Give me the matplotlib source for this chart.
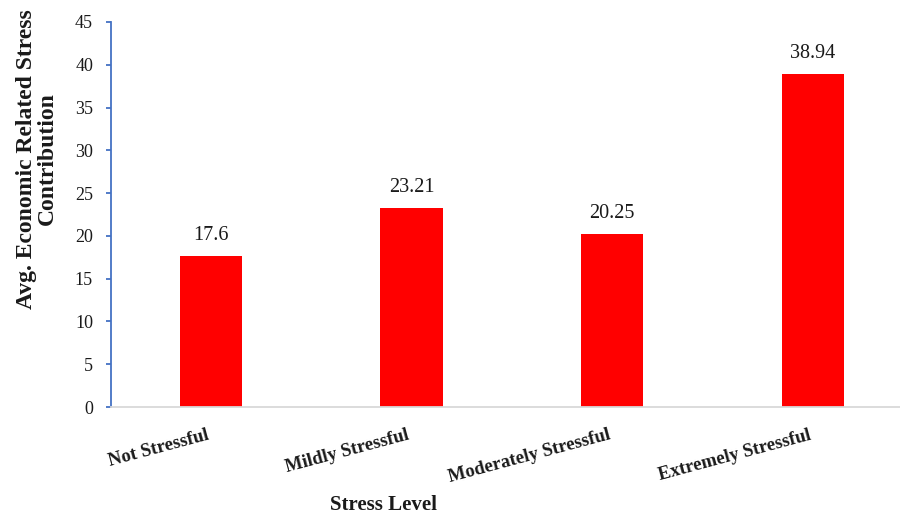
import matplotlib
matplotlib.use("Agg")
import matplotlib.pyplot as plt
import numpy as np

# data
levels = ["Not Stressful", "Mildly Stressful", "Moderately Stressful", "Extremely Stressful"]
avg_contrib = [17.6, 23.21, 20.25, 38.94]
value_labels = ["17.6", "23.21", "20.25", "38.94"]
yticks = [0, 5, 10, 15, 20, 25, 30, 35, 40, 45]

plt.rcParams['font.family'] = ['Liberation Serif', 'DejaVu Serif']

fig = plt.figure(figsize=(9, 5.14), dpi=100)
ax = fig.add_axes([110.5 / 900, 107 / 514, 802.5 / 900, 385 / 514])

x = np.arange(len(levels))
bars = ax.bar(x, avg_contrib, width=0.31, color='#FF0000', zorder=2)

# value labels above bars
for xi, v, lab in zip(x, avg_contrib, value_labels):
    ax.annotate(lab, (xi, v), xytext=(0, 8), textcoords='offset points',
                ha='center', va='bottom', fontsize=14.5, color='#1a1a1a')

ax.set_xlim(-0.5, 3.5)
ax.set_ylim(0, 45)
ax.set_yticks(yticks)
ax.set_yticklabels([str(t) for t in yticks], fontsize=13, color='#1a1a1a')

ax.set_xticks(x)
ax.set_xticklabels(levels, rotation=15, ha='right', fontsize=13.5,
                   fontweight='bold', color='#1a1a1a')
ax.tick_params(axis='x', length=0, pad=14)
ax.tick_params(axis='y', length=3.6, width=1.3, color='#4472C4', pad=9)

for s in ['top', 'right']:
    ax.spines[s].set_visible(False)
ax.spines['left'].set_color('#4472C4')
ax.spines['left'].set_linewidth(1.3)
ax.spines['bottom'].set_color('#D9D9D9')
ax.spines['bottom'].set_linewidth(1.3)

fig.text(384 / 900, (514 - 505) / 514, "Stress Level", ha='center', va='center',
         fontsize=15, fontweight='bold', color='#1a1a1a')
fig.text(37 / 900, (514 - 159) / 514, "Avg. Economic Related Stress\nContribution",
         rotation=90, ha='center', va='center', multialignment='center',
         fontsize=17, fontweight='bold', color='#1a1a1a', linespacing=0.95)

fig.savefig("out.png", dpi=100)
